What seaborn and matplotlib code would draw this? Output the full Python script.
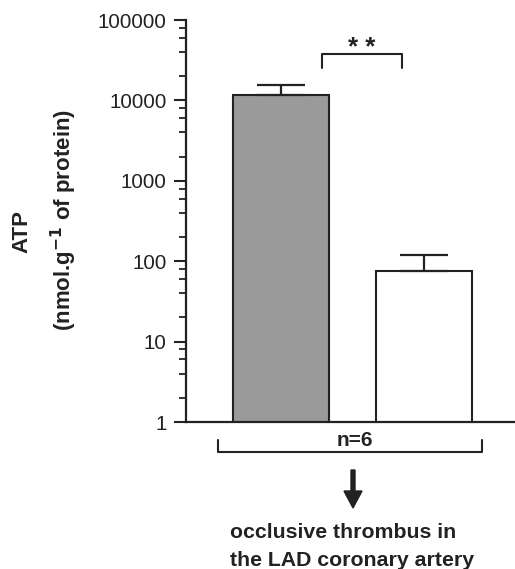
import matplotlib
matplotlib.use("Agg")
import matplotlib.pyplot as plt
import seaborn as sns
import numpy as np
import pandas as pd
from matplotlib.lines import Line2D
from matplotlib.ticker import LogLocator, FixedLocator, NullFormatter

# ---- data ----
groups = ["control", "occlusive thrombus"]
atp_mean = [11600, 75]
atp_err = [3800, 44]
bar_colors = ["#9a9a9a", "#ffffff"]
ytick_vals = [1, 10, 100, 1000, 10000, 100000]
ytick_labels = ["1", "10", "100", "1000", "10000", "100000"]
sig_label = "* *"
n_label = "n=6"
bottom_lines = ["occlusive thrombus in", "the LAD coronary artery"]

sns.set_theme(style="ticks")
plt.rcParams['font.family'] = ['Liberation Sans', 'DejaVu Sans']

W, H = 515, 569
fig = plt.figure(figsize=(W / 100, H / 100), dpi=100)
ax = fig.add_axes([186 / W, 1 - 422 / H, 1 - 186 / W, (422 - 20) / H])

df = pd.DataFrame({"group": groups, "atp": atp_mean})
sns.barplot(data=df, x="group", y="atp", hue="group", palette=bar_colors,
            width=0.67, edgecolor="#222222", linewidth=1.5, legend=False, ax=ax)
ax.set_yscale("log")
ax.set_ylim(1, 100000)
ax.set_xlim(-0.664, 1.636)

ax.errorbar([0, 1], atp_mean, yerr=[[0, 0], atp_err], fmt="none",
            ecolor="#222222", elinewidth=1.6, capsize=17, capthick=1.6, zorder=1)

ax.yaxis.set_major_locator(FixedLocator(ytick_vals))
ax.set_yticklabels(ytick_labels)
ax.yaxis.set_minor_locator(LogLocator(base=10, subs=[2, 4, 6, 8], numticks=20))
ax.yaxis.set_minor_formatter(NullFormatter())
ax.tick_params(axis="y", which="major", length=8.5, width=1.5, labelsize=14.8, pad=5.5, colors="#222222")
ax.tick_params(axis="y", which="minor", length=5, width=1.3, colors="#222222")
ax.set_xticks([])
ax.set_xlabel("")
ax.set_ylabel("")
for s in ["top", "right"]:
    ax.spines[s].set_visible(False)
for s in ["left", "bottom"]:
    ax.spines[s].set_linewidth(1.6)
    ax.spines[s].set_color("#222222")

def fx(px):
    return px / W

def fy(py):
    return 1 - py / H

def fline(xs, ys, lw=1.5):
    fig.add_artist(Line2D([fx(x) for x in xs], [fy(y) for y in ys],
                          color="#222222", lw=lw, transform=fig.transFigure))

# significance bracket
fline([322, 322, 402, 402], [68, 54, 54, 68])
fig.text(fx(362), fy(55), sig_label, ha="center", va="baseline", fontsize=18.5,
         fontweight="bold", color="#222222")

# y label
fig.text(fx(22), fy(232), "ATP", rotation=90, ha="center", va="center",
         fontsize=16, fontweight="bold", color="#222222")
fig.text(fx(64), fy(220), r"(nmol.g$^{\mathbf{-1}}$ of protein)", rotation=90,
         ha="center", va="center", fontsize=16, fontweight="bold", color="#222222")

# n=6 bracket
fline([218, 218, 482, 482], [440, 452, 452, 440])
fig.text(fx(355), fy(441), n_label, ha="center", va="center", fontsize=15,
         fontweight="bold", color="#222222")

# arrow
fig.add_artist(matplotlib.patches.FancyArrow(fx(353), fy(470), 0, fy(508) - fy(470),
               width=4 / W, head_width=18 / W, head_length=17 / H,
               length_includes_head=True, color="#222222", transform=fig.transFigure))

# bottom text
fig.text(fx(230), fy(532), bottom_lines[0], ha="left", va="center", fontsize=15.3,
         fontweight="bold", color="#222222")
fig.text(fx(230), fy(560), bottom_lines[1], ha="left", va="center", fontsize=15.3,
         fontweight="bold", color="#222222")

fig.savefig("out.png", dpi=100)
